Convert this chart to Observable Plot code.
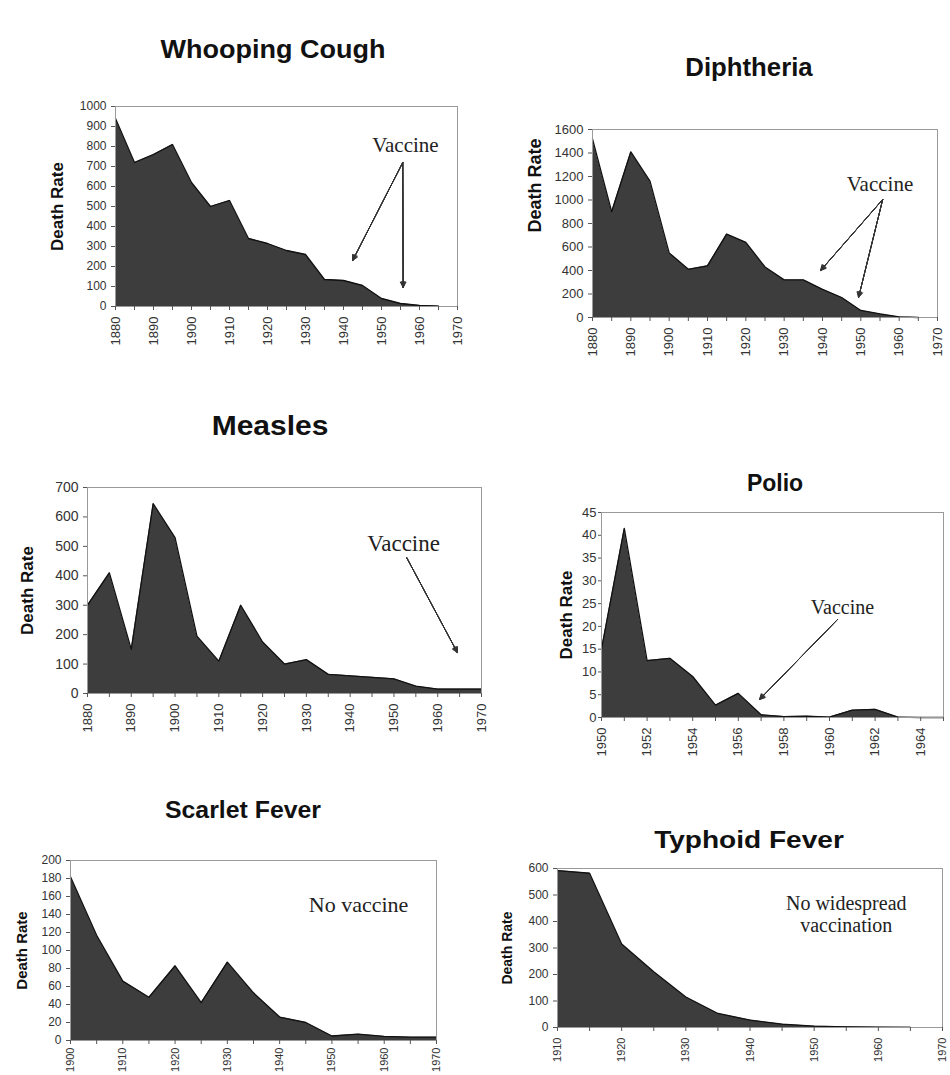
<!DOCTYPE html>
<html><head><meta charset="utf-8">
<script src="https://cdn.jsdelivr.net/npm/d3@7"></script>
<script src="https://cdn.jsdelivr.net/npm/@observablehq/plot@0.6"></script>
<style>
html,body{margin:0;padding:0;background:#fff;}
body{width:950px;height:1075px;overflow:hidden;position:relative;font-family:"Liberation Sans",Arial,sans-serif;}
.title{position:absolute;font-family:"Liberation Sans",Arial,sans-serif;font-weight:bold;color:#111;white-space:nowrap;line-height:1;}
</style></head><body>
<script>
// ---------- DATA ----------
const titles = ["Whooping Cough", "Diphtheria", "Measles", "Polio", "Scarlet Fever", "Typhoid Fever"];
const yLabel = "Death Rate";

const wcYears = [1880,1885,1890,1895,1900,1905,1910,1915,1920,1925,1930,1935,1940,1945,1950,1955,1960,1965];
const wcRates = [940,720,760,810,620,500,530,340,315,280,260,135,130,105,40,15,5,2];

const dpYears = [1880,1885,1890,1895,1900,1905,1910,1915,1920,1925,1930,1935,1940,1945,1950,1955,1960,1965];
const dpRates = [1520,900,1410,1160,550,410,440,710,640,430,320,320,240,170,60,30,5,0];

const msYears = [1880,1885,1890,1895,1900,1905,1910,1915,1920,1925,1930,1935,1940,1945,1950,1955,1960,1965,1970];
const msRates = [300,410,150,645,530,195,110,300,175,100,115,65,60,55,50,25,15,15,15];

const plYears = [1950,1951,1952,1953,1954,1955,1956,1957,1958,1959,1960,1961,1962,1963,1964,1965];
const plRates = [15,41.5,12.5,13,9,2.7,5.3,0.6,0.2,0.3,0.1,1.6,1.8,0.1,0,0];

const sfYears = [1900,1905,1910,1915,1920,1925,1930,1935,1940,1945,1950,1955,1960,1965,1970];
const sfRates = [182,117,66,48,83,42,87,53,26,20,5,7,4.5,3.7,3.7];

const tyYears = [1910,1915,1920,1925,1930,1935,1940,1945,1950,1955,1960,1965];
const tyRates = [592,582,315,210,115,53,28,12.5,5,2.5,1,0.5];

// tick values
const ticks5_1880 = [1880,1885,1890,1895,1900,1905,1910,1915,1920,1925,1930,1935,1940,1945,1950,1955,1960,1965,1970];
const ticks5_1900 = [1900,1905,1910,1915,1920,1925,1930,1935,1940,1945,1950,1955,1960,1965,1970];
const ticks5_1910 = [1910,1915,1920,1925,1930,1935,1940,1945,1950,1955,1960,1965,1970];
const ticksPolio = [1950,1951,1952,1953,1954,1955,1956,1957,1958,1959,1960,1961,1962,1963,1964,1965];
const wcYTicks = [0,100,200,300,400,500,600,700,800,900,1000];
const dpYTicks = [0,200,400,600,800,1000,1200,1400,1600];
const msYTicks = [0,100,200,300,400,500,600,700];
const plYTicks = [0,5,10,15,20,25,30,35,40,45];
const sfYTicks = [0,20,40,60,80,100,120,140,160,180,200];
const tyYTicks = [0,100,200,300,400,500,600];

// annotations (data coordinates)
const wcNotes = [{x:1956.3, y:805, text:"Vaccine"}];
const wcArrows = [{x1:1955.6, y1:720, x2:1942.4, y2:230}, {x1:1955.6, y1:720, x2:1955.7, y2:95}];
const dpNotes = [{x:1955, y:1132, text:"Vaccine"}];
const dpArrows = [{x1:1955.7, y1:1004, x2:1939.5, y2:400}, {x1:1955.7, y1:1004, x2:1949.4, y2:170}];
const msNotes = [{x:1952.2, y:510, text:"Vaccine"}];
const msArrows = [{x1:1952.9, y1:462, x2:1964.5, y2:139}];
const plNotes = [{x:1960.57, y:24.1, text:"Vaccine"}];
const plArrows = [{x1:1960.35, y1:21.5, x2:1956.93, y2:3.95}];
const sfNotes = [{x:1955.1, y:151, text:"No vaccine"}];
const tyNotes = [{x:1955, y:430, text:"No widespread\nvaccination"}];

// ---------- LAYOUT ----------
const titleLayout = [
  {cx:273, capTop:40, fs:25, k:1.08},
  {cx:749, capTop:58, fs:25, k:1.03},
  {cx:270, capTop:417, fs:27, k:1.11},
  {cx:775, capTop:475, fs:23, k:1.0},
  {cx:243, capTop:802, fs:23, k:1.08},
  {cx:749, capTop:832, fs:23, k:1.22}
];

titles.forEach((t, i) => {
  const L = titleLayout[i];
  const d = document.createElement("div");
  d.className = "title";
  d.textContent = t;
  d.style.fontSize = L.fs + "px";
  d.style.left = L.cx + "px";
  d.style.top = (L.capTop - 0.13 * L.fs) + "px";
  d.style.transform = `translateX(-50%) scaleX(${L.k})`;
  document.body.appendChild(d);
});

const mL = 80, mR = 4, mT = 6, mB = 60;

function panel(o) {
  const data = o.years.map((y, i) => ({year: y, rate: o.rates[i]}));
  const labelMark = o.labelY != null
    ? Plot.text([o.labelY], {y: d => d, text: () => yLabel, frameAnchor: "left", textAnchor: "middle", rotate: -90, dx: o.labelDx, fontWeight: "bold", fontSize: o.labelSize, fill: "#111"})
    : Plot.text([yLabel], {text: d => d, frameAnchor: "left", textAnchor: "middle", rotate: -90, dx: o.labelDx, fontWeight: "bold", fontSize: o.labelSize, fill: "#111"});
  const arrowMarks = [];
  if (o.arrows) {
    for (const a of [56, 44, 32, 20, 8]) {
      arrowMarks.push(Plot.arrow(o.arrows, {x1: "x1", y1: "y1", x2: "x2", y2: "y2", stroke: "#333", strokeWidth: 1, headLength: 9, headAngle: a}));
    }
  }
  const chart = Plot.plot({
    width: o.FR - o.FL + mL + mR,
    height: o.FB - o.FT + mT + mB,
    marginLeft: mL, marginRight: mR, marginTop: mT, marginBottom: mB,
    x: {domain: o.xDomain},
    y: {domain: o.yDomain},
    style: {fontFamily: "Liberation Sans, Arial, sans-serif", overflow: "visible", background: "transparent", color: "#333"},
    marks: [
      Plot.areaY(data, {x: "year", y: "rate", fill: "#3d3d3d"}),
      Plot.lineY(data, {x: "year", y: "rate", stroke: "#111", strokeWidth: 1.3}),
      Plot.frame({stroke: "#9a9a9a", strokeWidth: 1}),
      Plot.axisY({ticks: o.yTicks, tickFormat: d => String(d), tickSize: o.yTickSize ?? 4, tickPadding: o.yTickPad ?? 5, fontSize: o.yFont, label: null, stroke: "#555"}),
      Plot.axisX({ticks: o.xTicks, tickFormat: o.xFmt, tickRotate: -90, tickSize: 4, tickPadding: o.xTickPad ?? 6, fontSize: o.xFont, label: null, stroke: "#555"}),
      labelMark,
      ...arrowMarks,
      o.notes ? Plot.text(o.notes, {x: "x", y: "y", text: "text", fontFamily: "Liberation Serif, Times New Roman, serif", fontSize: o.noteSize, fill: "#222", lineHeight: o.lineHeight ?? 1}) : null
    ]
  });
  chart.style.position = "absolute";
  chart.style.left = (o.FL - mL) + "px";
  chart.style.top = (o.FT - mT) + "px";
  document.body.appendChild(chart);
}

const fmt10 = d => d % 10 === 0 ? String(d) : "";
const fmt2 = d => d % 2 === 0 && d < 1965 ? String(d) : "";

panel({years: wcYears, rates: wcRates, FL:115, FT:106, FR:457, FB:306, xDomain:[1880,1970], yDomain:[0,1000],
  yTicks: wcYTicks, xTicks: ticks5_1880, xFmt: fmt10, yFont:12, xFont:13, labelSize:17, labelDx:-58,
  notes: wcNotes, arrows: wcArrows, noteSize:21});

panel({years: dpYears, rates: dpRates, FL:592, FT:129, FR:937, FB:317, xDomain:[1880,1970], yDomain:[0,1600],
  yTicks: dpYTicks, xTicks: ticks5_1880, xFmt: fmt10, yFont:13, xFont:13, labelSize:18, labelDx:-57, labelY:1123,
  notes: dpNotes, arrows: dpArrows, noteSize:21});

panel({years: msYears, rates: msRates, FL:87, FT:487, FR:481, FB:693, xDomain:[1880,1970], yDomain:[0,700],
  yTicks: msYTicks, xTicks: ticks5_1880, xFmt: fmt10, yFont:14, xFont:13, labelSize:17, labelDx:-60,
  notes: msNotes, arrows: msArrows, noteSize:23});

panel({years: plYears, rates: plRates, FL:601, FT:512, FR:943, FB:717, xDomain:[1950,1965], yDomain:[0,45],
  yTicks: plYTicks, xTicks: ticksPolio, xFmt: fmt2, yFont:13, xFont:13, labelSize:17, labelDx:-35, yTickSize:3, yTickPad:2,
  notes: plNotes, arrows: plArrows, noteSize:20});

panel({years: sfYears, rates: sfRates, FL:70, FT:860, FR:436, FB:1040, xDomain:[1900,1970], yDomain:[0,200],
  yTicks: sfYTicks, xTicks: ticks5_1900, xFmt: fmt10, yFont:12, xFont:11, xTickPad:3, labelSize:15, labelDx:-48,
  notes: sfNotes, noteSize:22});

panel({years: tyYears, rates: tyRates, FL:557, FT:868, FR:942, FB:1027, xDomain:[1910,1970], yDomain:[0,600],
  yTicks: tyYTicks, xTicks: ticks5_1910, xFmt: fmt10, yFont:12, xFont:11, labelSize:14, labelDx:-50,
  notes: tyNotes, noteSize:20, lineHeight:1.1});
</script>
</body></html>
